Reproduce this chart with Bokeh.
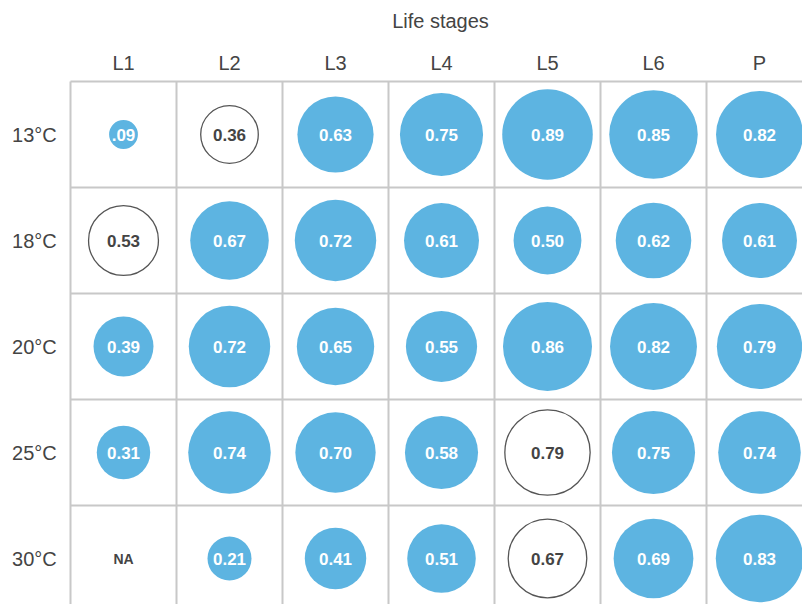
from bokeh.plotting import figure
from bokeh.models import Range1d, Label
from bokeh.core.properties import value
from bokeh.embed import file_html
from bokeh.resources import INLINE
import math

stages = ["L1", "L2", "L3", "L4", "L5", "L6", "P"]
temps = ["13°C", "18°C", "20°C", "25°C", "30°C"]
values = [
    [0.09, 0.36, 0.63, 0.75, 0.89, 0.85, 0.82],
    [0.53, 0.67, 0.72, 0.61, 0.50, 0.62, 0.61],
    [0.39, 0.72, 0.65, 0.55, 0.86, 0.82, 0.79],
    [0.31, 0.74, 0.70, 0.58, 0.79, 0.75, 0.74],
    [None, 0.21, 0.41, 0.51, 0.67, 0.69, 0.83],
]
significant = [
    [1, 0, 1, 1, 1, 1, 1],
    [0, 1, 1, 1, 1, 1, 1],
    [1, 1, 1, 1, 1, 1, 1],
    [1, 1, 1, 1, 0, 1, 1],
    [0, 1, 1, 1, 0, 1, 1],
]

W, H = 802, 604
CELL = 106.0
X0, Y0 = 70.0, 81.0
BLUE = "#5db4e1"
DARK = "#444444"
GRID = "#c8c8c8"
FONT = "Liberation Sans"

p = figure(width=W, height=H, output_backend="svg", toolbar_location=None,
           x_range=Range1d(-X0 / CELL, (W - X0) / CELL),
           y_range=Range1d((H - Y0) / CELL, -Y0 / CELL),
           min_border=0, outline_line_color=None)
p.xaxis.visible = False
p.yaxis.visible = False
p.xgrid.visible = False
p.ygrid.visible = False
p.background_fill_color = "white"
p.border_fill_color = "white"

nc, nr = len(stages), len(temps)
# grid
p.segment(x0=list(range(nc + 1)), y0=[0] * (nc + 1), x1=list(range(nc + 1)), y1=[nr] * (nc + 1),
          line_color=GRID, line_width=2)
p.segment(x0=[0] * (nr + 1), y0=list(range(nr + 1)), x1=[nc] * (nr + 1), y1=list(range(nr + 1)),
          line_color=GRID, line_width=2)

fx, fy, fr, ft = [], [], [], []
ox, oy, orr, ot = [], [], [], []
nx, ny, nt = [], [], []
for j in range(nr):
    for i in range(nc):
        v = values[j][i]
        cx, cy = i + 0.5, j + 0.5
        if v is None:
            nx.append(cx); ny.append(cy); nt.append("NA")
            continue
        r = 0.4528 * math.sqrt(v)
        lab = f"{v:.2f}"
        if v < 0.1:
            lab = lab[1:]
        if significant[j][i]:
            fx.append(cx); fy.append(cy); fr.append(r); ft.append(lab)
        else:
            ox.append(cx); oy.append(cy); orr.append(r); ot.append(lab)

p.circle(x=fx, y=fy, radius=fr, fill_color=BLUE, line_color=None)
p.circle(x=ox, y=oy, radius=orr, fill_color="white", line_color="#555555", line_width=1.3)

p.text(x=fx, y=fy, text=ft, text_color="white", text_font=value(FONT), text_font_style="bold",
       text_font_size="17px", text_align="center", text_baseline="middle")
p.text(x=ox, y=oy, text=ot, text_color=DARK, text_font=value(FONT), text_font_style="bold",
       text_font_size="17px", text_align="center", text_baseline="middle")
p.text(x=nx, y=ny, text=nt, text_color=DARK, text_font=value(FONT), text_font_style="bold",
       text_font_size="14px", text_align="center", text_baseline="middle")

# column headers
p.text(x=[i + 0.5 for i in range(nc)], y=[-0.17] * nc, text=stages, text_color=DARK,
       text_font=value(FONT), text_font_size="20px", text_align="center", text_baseline="middle")
# row headers
p.text(x=[-0.34] * nr, y=[j + 0.5 for j in range(nr)], text=temps, text_color=DARK,
       text_font=value(FONT), text_font_size="20px", text_align="center", text_baseline="middle")

p.add_layout(Label(x=440, y=H - 20, x_units="screen", y_units="screen", text="Life stages",
                   text_color=DARK, text_font=FONT, text_font_size="20px",
                   text_align="center", text_baseline="middle"))

open("out.html", "w").write(file_html(p, INLINE))
